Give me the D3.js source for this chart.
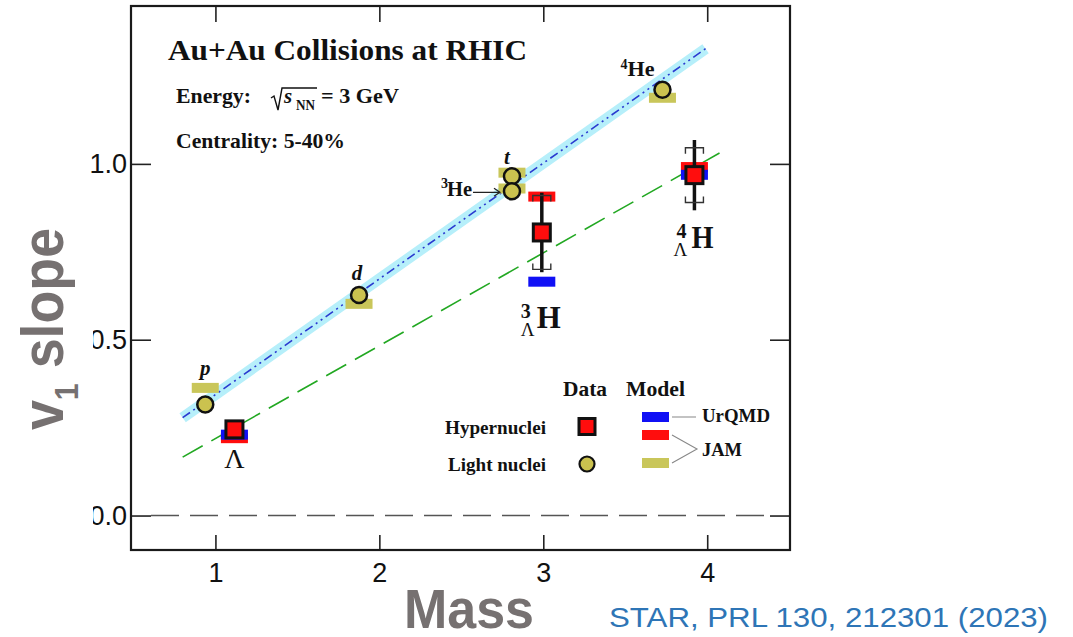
<!DOCTYPE html>
<html>
<head>
<meta charset="utf-8">
<script src="https://cdn.jsdelivr.net/npm/d3@7"></script>
<style>
  html, body { margin: 0; padding: 0; background: #fff; }
  svg { display: block; }
</style>
</head>
<body>
<svg id="chart" width="1073" height="637"></svg>
<script>
// ---- data -------------------------------------------------------------
const xTicks = [1, 2, 3, 4];
const yTicks = [0.0, 0.5, 1.0];

// light nuclei: p, d, t, 3He, 4He
const lightNames = ["p", "d", "t", "3He", "4He"];
const lightMass  = [0.938, 1.876, 2.809, 2.809, 3.727];
const lightV1    = [0.316, 0.627, 0.965, 0.922, 1.211];
const lightJAM   = [0.363, 0.602, 0.975, 0.930, 1.188];

// hypernuclei: Lambda, 3LH, 4LH
const hyperNames  = ["Λ", "3ΛH", "4ΛH"];
const hyperMass   = [1.116, 2.991, 3.922];
const hyperV1     = [0.245, 0.805, 0.968];
const hyperStat   = [0.010, 0.113, 0.100];
const hyperSys    = [0.000, 0.105, 0.078];
const hyperUrQMD  = [0.230, 0.665, 0.969];
const hyperJAM    = [0.220, 0.907, 0.991];

// linear fits v1 = a * m + b
const lightFit = { slope: 0.329, intercept: 0.015, from: 0.80, to: 3.99 };
const hyperFit = { slope: 0.264, intercept: -0.045, from: 0.80, to: 4.09 };

// ---- setup -------------------------------------------------------------
const svg = d3.select("#chart");
const SERIF = "'Liberation Serif', 'Times New Roman', serif";
const SANS = "'Liberation Sans', Arial, sans-serif";
const C = {
  red: "#ff0d0d", blue: "#1010f5", jam: "#c9c65a", light: "#cbc24f",
  band: "#b6effa", fitBlue: "#2a3ad0", fitGreen: "#22a822",
  gray: "#767171", star: "#2e75b6"
};

const x = d3.scaleLinear().domain([0.485, 4.505]).range([131, 790]);
const y = d3.scaleLinear().domain([-0.098, 1.449]).range([550, 6]);

// ---- axes --------------------------------------------------------------
const gB = svg.append("g").attr("transform", `translate(0,${y.range()[0]})`)
  .call(d3.axisBottom(x).tickValues(xTicks).tickSize(-15).tickPadding(13).tickFormat(d3.format("d")));
const gT = svg.append("g").attr("transform", `translate(0,${y.range()[1]})`)
  .call(d3.axisTop(x).tickValues(xTicks).tickSize(-16).tickFormat(""));
const gL = svg.append("g").attr("transform", `translate(${x.range()[0]},0)`)
  .call(d3.axisLeft(y).tickValues(yTicks).tickSize(-20).tickPadding(4).tickFormat(d3.format(".1f")));
const gR = svg.append("g").attr("transform", `translate(${x.range()[1]},0)`)
  .call(d3.axisRight(y).tickValues(yTicks).tickSize(-20).tickFormat(""));

[gB, gT, gL, gR].forEach(g => {
  g.select(".domain").remove();
  g.selectAll(".tick line").attr("stroke", "#222").attr("stroke-width", 1.6);
  g.selectAll(".tick text").attr("font-family", SANS).attr("font-size", 27).attr("fill", "#111");
});

// zero reference line
svg.append("line")
  .attr("x1", x.range()[0] + 20).attr("x2", x.range()[1] - 20)
  .attr("y1", y(0)).attr("y2", y(0))
  .attr("stroke", "#555").attr("stroke-width", 1.6)
  .attr("stroke-dasharray", "28,11");

// frame
svg.append("rect")
  .attr("x", x.range()[0]).attr("y", y.range()[1])
  .attr("width", x.range()[1] - x.range()[0])
  .attr("height", y.range()[0] - y.range()[1])
  .attr("fill", "none").attr("stroke", "#1a1a1a").attr("stroke-width", 2.2);

// ---- fit lines ---------------------------------------------------------
function fitPts(f) {
  return [f.from, f.to].map(m => [x(m), y(f.slope * m + f.intercept)]);
}
const line = d3.line();
svg.append("path").attr("d", line(fitPts(lightFit)))
  .attr("stroke", C.band).attr("stroke-width", 11).attr("fill", "none");
svg.append("path").attr("d", line(fitPts(lightFit)))
  .attr("stroke", C.fitBlue).attr("stroke-width", 1.6).attr("fill", "none")
  .attr("stroke-dasharray", "9,4,2,4,2,4");
svg.append("path").attr("d", line(fitPts(hyperFit)))
  .attr("stroke", C.fitGreen).attr("stroke-width", 1.6).attr("fill", "none")
  .attr("stroke-dasharray", "23,10");

// ---- model bars --------------------------------------------------------
const BW = 27, BH = 10;
function bar(m, v, color) {
  svg.append("rect").attr("x", x(m) - BW / 2).attr("y", y(v) - BH / 2)
    .attr("width", BW).attr("height", BH).attr("fill", color);
}
lightMass.forEach((m, i) => bar(m, lightJAM[i], C.jam));
hyperMass.forEach((m, i) => bar(m, hyperJAM[i], C.red));
hyperMass.forEach((m, i) => bar(m, hyperUrQMD[i], C.blue));

// ---- light nuclei points -----------------------------------------------
lightMass.forEach((m, i) => {
  svg.append("circle").attr("cx", x(m)).attr("cy", y(lightV1[i])).attr("r", 8)
    .attr("fill", C.light).attr("stroke", "#111").attr("stroke-width", 2.5);
});

// ---- hypernuclei points with errors ------------------------------------
hyperMass.forEach((m, i) => {
  const cx = x(m), v = hyperV1[i];
  if (hyperStat[i] > 0.03) {
    svg.append("line").attr("x1", cx).attr("x2", cx)
      .attr("y1", y(v + hyperStat[i])).attr("y2", y(v - hyperStat[i]))
      .attr("stroke", "#111").attr("stroke-width", 3.5);
  }
  if (hyperSys[i] > 0) {
    const hw = 9, tk = 6;
    const yt = y(v + hyperSys[i]), yb = y(v - hyperSys[i]);
    svg.append("path")
      .attr("d", `M${cx - hw},${yt + tk}V${yt}H${cx + hw}V${yt + tk}`)
      .attr("fill", "none").attr("stroke", "#333").attr("stroke-width", 1.4);
    svg.append("path")
      .attr("d", `M${cx - hw},${yb - tk}V${yb}H${cx + hw}V${yb - tk}`)
      .attr("fill", "none").attr("stroke", "#333").attr("stroke-width", 1.4);
  }
  svg.append("rect").attr("x", cx - 8.5).attr("y", y(v) - 8.5)
    .attr("width", 17).attr("height", 17)
    .attr("fill", C.red).attr("stroke", "#111").attr("stroke-width", 3);
});

// ---- text helpers ------------------------------------------------------
function txt(s, px, py, o = {}) {
  const t = svg.append("text").attr("x", px).attr("y", py)
    .attr("font-family", o.family || SERIF)
    .attr("font-size", o.size || 20)
    .attr("font-weight", o.weight || "bold")
    .attr("font-style", o.style || "normal")
    .attr("fill", o.fill || "#111")
    .attr("text-anchor", o.anchor || "start")
    .text(s);
  if (o.len) t.attr("textLength", o.len).attr("lengthAdjust", "spacingAndGlyphs");
  return t;
}

// header
txt("Au+Au Collisions at RHIC", 168, 60, { size: 30, len: 359 });
txt("Energy:", 176, 103, { size: 21, len: 75 });
svg.append("path").attr("d", "M271,98 L274,96 L278,110 L282,88 L317,88")
  .attr("fill", "none").attr("stroke", "#111").attr("stroke-width", 1.4);
txt("s", 284, 103, { size: 21, style: "italic" });
txt("NN", 296, 110, { size: 14, len: 19 });
txt("= 3 GeV", 321, 103, { size: 21, len: 78 });
txt("Centrality: 5-40%", 176, 148, { size: 21, len: 169 });

// light nuclei labels
const [pM, dM, tM, he3M, he4M] = lightMass;
txt("p", x(pM), y(lightJAM[0]) - 13, { size: 21, style: "italic", anchor: "middle" });
txt("d", x(dM) - 2, y(lightV1[1]) - 15, { size: 21, style: "italic", anchor: "middle" });
txt("t", x(tM) - 5, y(lightV1[2]) - 12, { size: 21, style: "italic", anchor: "middle" });
txt("3", x(he3M) - 71, y(lightV1[3]) - 3, { size: 14 });
txt("He", x(he3M) - 65, y(lightV1[3]) + 5, { size: 20, len: 25 });
{
  const ay = y(lightV1[3]) + 1, ax0 = x(he3M) - 39, ax1 = x(he3M) - 12;
  svg.append("path").attr("d", `M${ax0},${ay}H${ax1}M${ax1 - 6},${ay - 4}L${ax1},${ay}L${ax1 - 6},${ay + 4}`)
    .attr("fill", "none").attr("stroke", "#222").attr("stroke-width", 1.2);
}
txt("4", x(he4M) - 42, y(lightV1[4]) - 21, { size: 14 });
txt("He", x(he4M) - 35, y(lightV1[4]) - 14, { size: 20, len: 27 });

// hypernuclei labels
const [lamM, h3M, h4M] = hyperMass;
txt("Λ", x(lamM), y(hyperV1[0]) + 39, { size: 28, weight: "normal", anchor: "middle" });
txt("3", x(h3M) - 21, y(hyperV1[1]) + 86, { size: 20 });
txt("Λ", x(h3M) - 21, y(hyperV1[1]) + 104, { size: 19, weight: "normal" });
txt("H", x(h3M) - 5, y(hyperV1[1]) + 96, { size: 32, len: 24 });
txt("4", x(h4M) - 18, y(hyperV1[2]) + 63, { size: 20 });
txt("Λ", x(h4M) - 21, y(hyperV1[2]) + 81, { size: 19, weight: "normal" });
txt("H", x(h4M) - 3, y(hyperV1[2]) + 73, { size: 32, len: 22 });

// ---- legend ------------------------------------------------------------
txt("Data", 563, 396, { size: 21, len: 44 });
txt("Model", 626, 396, { size: 21, len: 59 });
txt("Hypernuclei", 445, 434, { size: 18, len: 101 });
txt("Light nuclei", 448, 471, { size: 18, len: 98 });
svg.append("rect").attr("x", 579).attr("y", 418.5).attr("width", 16).attr("height", 16)
  .attr("fill", C.red).attr("stroke", "#111").attr("stroke-width", 3);
svg.append("circle").attr("cx", 587).attr("cy", 464).attr("r", 7.5)
  .attr("fill", C.light).attr("stroke", "#111").attr("stroke-width", 2.2);
svg.append("rect").attr("x", 642).attr("y", 412).attr("width", 27).attr("height", 10).attr("fill", C.blue);
svg.append("rect").attr("x", 642).attr("y", 430).attr("width", 27).attr("height", 10).attr("fill", C.red);
svg.append("rect").attr("x", 642).attr("y", 458).attr("width", 27).attr("height", 10).attr("fill", C.jam);
svg.append("path").attr("d", "M672,417H696M672,435L697,449L672,463")
  .attr("fill", "none").attr("stroke", "#888").attr("stroke-width", 1.1);
txt("UrQMD", 702, 422, { size: 19, len: 68 });
txt("JAM", 702, 456, { size: 19, len: 40 });

// ---- axis titles -------------------------------------------------------
// background of the vertical title box (clips the lower tick labels' left edge)
svg.append("rect").attr("x", 0).attr("y", 195).attr("width", 93).attr("height", 365).attr("fill", "#fff");
{
  const t = svg.append("text")
    .attr("transform", "translate(63,329) rotate(-90)")
    .attr("text-anchor", "middle")
    .attr("font-family", SANS).attr("font-weight", "bold")
    .attr("font-size", 60).attr("fill", C.gray)
    .attr("textLength", 202).attr("lengthAdjust", "spacingAndGlyphs");
  t.append("tspan").text("v");
  t.append("tspan").attr("dy", 15).attr("font-size", 34).text("1");
  t.append("tspan").attr("dy", -15).text(" slope");
}
txt("Mass", 469, 628, { family: SANS, size: 56, fill: C.gray, anchor: "middle", len: 130 });
txt("STAR, PRL 130, 212301 (2023)", 609, 627, { family: SANS, size: 27, weight: "normal", fill: C.star, len: 439 });
</script>
</body>
</html>
